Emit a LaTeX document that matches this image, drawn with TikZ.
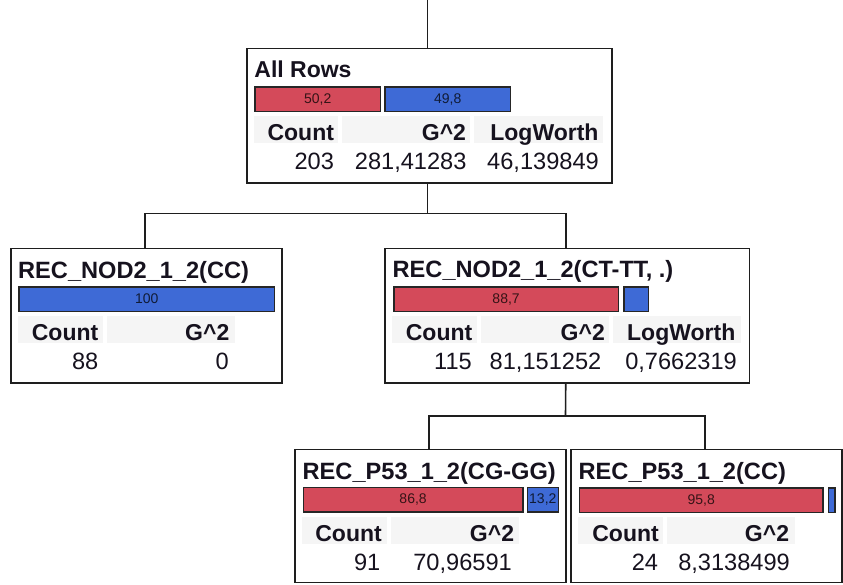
\documentclass[tikz,border=0pt]{standalone}
\usepackage{fontspec}
\setmainfont{Liberation Sans}
\definecolor{linec}{RGB}{30,30,30}
\definecolor{barred}{RGB}{212,74,90}
\definecolor{barblue}{RGB}{62,106,214}
\definecolor{cellgray}{RGB}{245,245,245}
\definecolor{txt}{RGB}{22,18,30}
\newcommand\mainsz{\fontsize{23}{27}\selectfont}
\newcommand\valsz{\fontsize{23.6}{27}\selectfont}
\newcommand\barsz{\fontsize{14}{16}\selectfont}
\tikzset{
  treebox/.style={draw=linec, line width=1.6pt, inner sep=0pt, outer sep=0pt, anchor=north west},
  redbar/.style={fill=barred, draw=black!85, line width=1.2pt, inner sep=0pt, anchor=north west,
    minimum height=24.5pt, font=\barsz, text=barred!25!black},
  bluebar/.style={fill=barblue, draw=black!85, line width=1.2pt, inner sep=0pt, anchor=north west,
    minimum height=24.5pt, font=\barsz, text=barblue!25!black},
  hcell/.style={fill=cellgray, inner sep=0pt, anchor=north west, minimum height=27.7pt},
  htext/.style={font=\mainsz\bfseries, anchor=base east, inner sep=0pt, text=txt},
  vtext/.style={font=\valsz, anchor=base east, inner sep=0pt, text=txt},
  ttext/.style={font=\valsz\bfseries, anchor=base west, inner sep=0pt, text=txt},
  conn/.style={draw=linec, line width=1.6pt, line join=miter}
}
\begin{document}
\begin{tikzpicture}[x=1pt,y=-1pt]
\useasboundingbox (0,0) rectangle (843,584);
\fill[white] (0,0) rectangle (843,584);

% ---------- root ----------
\begin{scope}[shift={(246.7,48.3)}]
  \node[hcell, minimum width=84.5pt] (rc1) at (7,67) {};
  \node[hcell, minimum width=128pt] (rc2) at (95.5,67) {};
  \node[hcell, minimum width=128.5pt] (rc3) at (227.5,67) {};
  \node[treebox, minimum width=365pt, minimum height=134.5pt] (root) at (0,0) {};
  \node[ttext, font=\mainsz\bfseries] (rt) at (7.5,29.5) {All Rows};
  \node[redbar, minimum width=125.7pt] (rr) at (7.6,38) {50,2};
  \node[bluebar, minimum width=125.7pt] (rb) at (137.6,38) {49,8};
  \node[htext] (rh1) at (87.5,92) {Count};
  \node[htext] (rh2) at (219.5,92) {G\^{}2};
  \node[htext] (rh3) at (352,92) {LogWorth};
  \node[vtext] (rv1) at (87.5,121) {203};
  \node[vtext] (rv2) at (220,121) {281,41283};
  \node[vtext] (rv3) at (352.3,121) {46,139849};
\end{scope}

% ---------- left ----------
\begin{scope}[shift={(11,248.3)}]
  \node[hcell, minimum width=84.5pt] (lc1) at (7,67) {};
  \node[hcell, minimum width=128pt] (lc2) at (95.5,67) {};
  \node[treebox, minimum width=270.7pt, minimum height=134.5pt] (lft) at (0,0) {};
  \node[ttext] (lt) at (7,30) {REC\_NOD2\_1\_2(CC)};
  \node[bluebar, minimum width=255.7pt] (lb) at (7.3,38) {100};
  \node[htext] (lh1) at (87.5,92) {Count};
  \node[htext] (lh2) at (218.5,92) {G\^{}2};
  \node[vtext] (lv1) at (87.5,121) {88};
  \node[vtext] (lv2) at (218,121) {0};
\end{scope}

% ---------- middle right ----------
\begin{scope}[shift={(385,248.3)}]
  \node[hcell, minimum width=84.5pt] (mc1) at (7,67) {};
  \node[hcell, minimum width=128pt] (mc2) at (95.5,67) {};
  \node[hcell, minimum width=128.5pt] (mc3) at (227.5,67) {};
  \node[treebox, minimum width=364.5pt, minimum height=134.5pt] (mid) at (0,0) {};
  \node[ttext] (mt) at (7.5,29.5) {REC\_NOD2\_1\_2(CT-TT, .)};
  \node[redbar, minimum width=224.4pt] (mr) at (8.3,38) {88,7};
  \node[bluebar, minimum width=24.4pt] (mb) at (238.3,38) {};
  \node[htext] (mh1) at (87.5,92) {Count};
  \node[htext] (mh2) at (220,92) {G\^{}2};
  \node[htext] (mh3) at (350.5,92) {LogWorth};
  \node[vtext] (mv1) at (87,121) {115};
  \node[vtext] (mv2) at (216.5,121) {81,151252};
  \node[vtext] (mv3) at (352,121) {0,7662319};
\end{scope}

% ---------- bottom left ----------
\begin{scope}[shift={(295,449.3)}]
  \node[hcell, minimum width=84.5pt] (bc1) at (7,67) {};
  \node[hcell, minimum width=128pt] (bc2) at (95.5,67) {};
  \node[treebox, minimum width=271pt, minimum height=133pt] (bl) at (0,0) {};
  \node[ttext] (bt) at (7.5,30) {REC\_P53\_1\_2(CG-GG)};
  \node[redbar, minimum width=219.6pt] (br1) at (7.7,37.5) {86,8};
  \node[bluebar, minimum width=31pt] (bb1) at (231.7,37.5) {13,2};
  \node[htext] (bh1) at (87,92) {Count};
  \node[htext] (bh2) at (219.3,92) {G\^{}2};
  \node[vtext] (bv1) at (85.5,121) {91};
  \node[vtext] (bv2) at (217,121) {70,96591};
\end{scope}

% ---------- bottom right ----------
\begin{scope}[shift={(571,449.3)}]
  \node[hcell, minimum width=84.5pt] (dc1) at (7,67) {};
  \node[hcell, minimum width=128pt] (dc2) at (95.5,67) {};
  \node[treebox, minimum width=270.7pt, minimum height=133pt] (br) at (0,0) {};
  \node[ttext] (dt) at (7.5,30.5) {REC\_P53\_1\_2(CC)};
  \node[redbar, minimum width=243.3pt] (dr) at (8,38) {95,8};
  \node[bluebar, minimum width=6.6pt] (db) at (256.7,38) {};
  \node[htext] (dh1) at (88,92) {Count};
  \node[htext] (dh2) at (218.3,92) {G\^{}2};
  \node[vtext] (dv1) at (87.3,121) {24};
  \node[vtext] (dv2) at (219,121) {8,3138499};
\end{scope}

% ---------- connectors ----------
\coordinate (topend) at (427.3,0);
\coordinate (j1) at (427.3,213.5);
\coordinate (j2) at (565.5,416);
\draw[conn] (topend) -- ([xshift=-1.9pt]root.north);
\draw[conn] ([xshift=-1.9pt]root.south) -- (j1);
\draw[conn] ([xshift=-1.5pt]lft.north) |- (j1) -| ([xshift=-1.5pt]mid.north);
\draw[conn] ([xshift=-1.5pt]mid.south) -- (j2);
\draw[conn] ([xshift=-1.5pt]bl.north) |- (j2) -| ([xshift=-1.5pt]br.north);
\end{tikzpicture}
\end{document}
